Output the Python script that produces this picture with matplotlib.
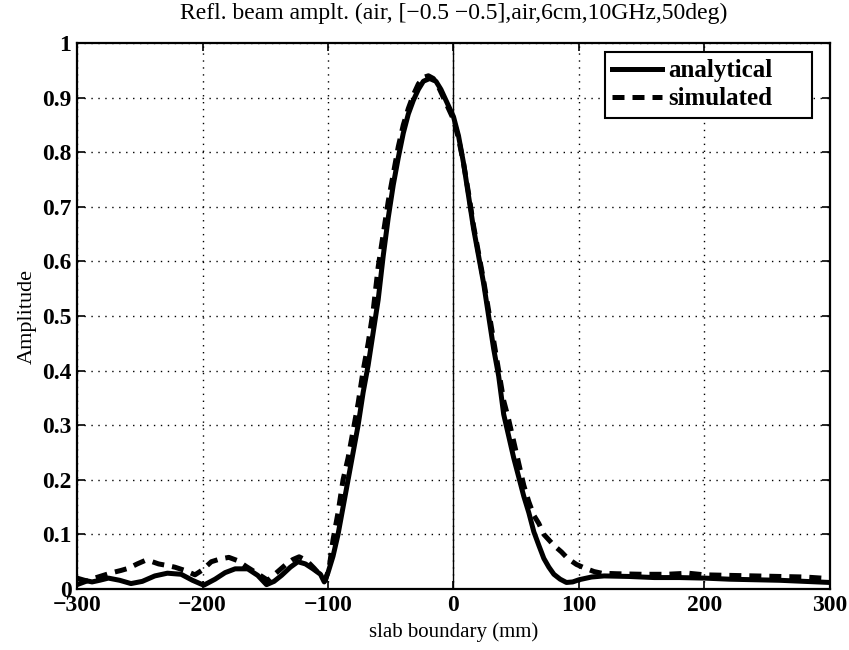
import matplotlib
matplotlib.use("Agg")
import matplotlib.pyplot as plt

# analytical curve (solid)
x_analytical = [-300, -294, -288, -282, -275, -266, -257, -248, -238, -228,
                -217, -208, -199, -190, -182, -174, -164, -156, -149, -143,
                -137, -130, -124, -118, -112, -106, -103, -100, -96, -92,
                -88, -84, -80, -76, -72, -68, -64, -60, -56, -52,
                -48, -44, -40, -36, -32, -28, -24, -19, -14, -10,
                -6, -2, 0, 4, 8, 12, 16, 20, 24, 28,
                32, 36, 40, 44, 48, 52, 56, 60, 64, 68,
                72, 76, 80, 85, 90, 95, 100, 110, 120, 140,
                160, 180, 200, 220, 240, 260, 280, 300]
y_analytical = [0.020, 0.016, 0.013, 0.016, 0.020, 0.016, 0.010, 0.014, 0.024, 0.029,
                0.027, 0.016, 0.007, 0.018, 0.030, 0.037, 0.037, 0.025, 0.008, 0.014,
                0.025, 0.040, 0.050, 0.046, 0.037, 0.027, 0.013, 0.030, 0.060, 0.100,
                0.150, 0.200, 0.250, 0.300, 0.360, 0.410, 0.470, 0.530, 0.610, 0.680,
                0.740, 0.790, 0.835, 0.870, 0.895, 0.915, 0.930, 0.935, 0.930, 0.915,
                0.895, 0.875, 0.865, 0.830, 0.780, 0.720, 0.660, 0.610, 0.560, 0.500,
                0.440, 0.390, 0.320, 0.280, 0.240, 0.205, 0.170, 0.140, 0.105, 0.080,
                0.056, 0.040, 0.027, 0.018, 0.012, 0.013, 0.017, 0.022, 0.024, 0.023,
                0.021, 0.021, 0.020, 0.018, 0.017, 0.016, 0.014, 0.012]

# simulated curve (dashed)
x_simulated = [-300, -293, -286, -279, -272, -265, -259, -252, -246, -240,
               -235, -228, -222, -214, -206, -200, -193, -186, -179, -172,
               -165, -156, -148, -141, -134, -128, -123, -117, -111, -106,
               -102, -99, -96, -92, -88, -84, -80, -76, -72, -68,
               -64, -60, -56, -52, -48, -44, -40, -36, -32, -28,
               -24, -20, -16, -12, -8, -4, 0, 4, 8, 12,
               16, 20, 24, 28, 32, 36, 40, 44, 48, 52,
               56, 60, 64, 68, 72, 76, 80, 86, 91, 98,
               105, 112, 118, 130, 150, 170, 187, 200, 220, 240,
               260, 280, 300]
y_simulated = [0.008, 0.014, 0.020, 0.025, 0.030, 0.034, 0.038, 0.046, 0.052, 0.050,
               0.046, 0.043, 0.040, 0.034, 0.026, 0.035, 0.050, 0.055, 0.058, 0.052,
               0.041, 0.028, 0.016, 0.030, 0.044, 0.054, 0.059, 0.052, 0.038, 0.025,
               0.016, 0.040, 0.090, 0.140, 0.200, 0.240, 0.290, 0.340, 0.400, 0.450,
               0.510, 0.590, 0.650, 0.710, 0.760, 0.810, 0.850, 0.880, 0.905, 0.925,
               0.937, 0.940, 0.935, 0.920, 0.900, 0.880, 0.860, 0.825, 0.780, 0.725,
               0.665, 0.615, 0.565, 0.510, 0.455, 0.400, 0.345, 0.310, 0.270, 0.230,
               0.190, 0.160, 0.135, 0.120, 0.100, 0.090, 0.080, 0.068, 0.056, 0.045,
               0.038, 0.032, 0.029, 0.028, 0.027, 0.027, 0.029, 0.026, 0.025, 0.024,
               0.023, 0.022, 0.019]

x_ticks = [-300, -200, -100, 0, 100, 200, 300]
y_ticks = [0, 0.1, 0.2, 0.3, 0.4, 0.5, 0.6, 0.7, 0.8, 0.9, 1]
y_tick_labels = ["0", "0.1", "0.2", "0.3", "0.4", "0.5", "0.6", "0.7", "0.8", "0.9", "1"]

plt.rcParams['font.family'] = ['Liberation Serif', 'DejaVu Serif']
plt.rcParams['axes.unicode_minus'] = True

fig = plt.figure(figsize=(8.49, 6.5), dpi=100)
ax = fig.add_axes([0.0907, 0.0938, 0.8869, 0.84])

ax.plot(x_analytical, y_analytical, color='black', lw=3.6, label='analytical',
        solid_joinstyle='round')
ax.plot(x_simulated, y_simulated, color='black', lw=3.6, linestyle=(0, (2.4, 1.6)),
        label='simulated')
ax.axvline(0, color='black', lw=1.0)

ax.set_xlim(-300, 300)
ax.set_ylim(0, 1)
ax.set_xticks(x_ticks)
ax.set_xticklabels([str(t).replace('-', '\u2212') for t in x_ticks])
ax.set_yticks(y_ticks)
ax.set_yticklabels(y_tick_labels)
for lab in ax.get_xticklabels() + ax.get_yticklabels():
    lab.set_fontweight('bold')
    lab.set_fontsize(17)

ax.grid(True, linestyle=(0, (1, 4)), color='black', lw=1.0)
ax.tick_params(direction='in', length=6, width=1.2, top=True, right=True, pad=4)
for sp in ax.spines.values():
    sp.set_linewidth(1.6)

ax.set_title('Refl. beam amplt. (air, [\u22120.5 \u22120.5],air,6cm,10GHz,50deg)',
             fontsize=17, pad=17)
ax.set_xlabel('slab boundary (mm)', fontsize=15, labelpad=5)
ax.set_ylabel('Amplitude', fontsize=16, labelpad=4)

# legend box spans a fixed width, entries left-aligned (MATLAB look)
leg = ax.legend(loc='upper left', bbox_to_anchor=(0.701, 0.5, 0.275, 0.484),
                mode='expand', borderaxespad=0,
                fancybox=False, framealpha=1, edgecolor='black',
                prop={'weight': 'bold', 'size': 18}, handlelength=2.0,
                handletextpad=0.25, borderpad=0.3, labelspacing=0.2)
leg.get_frame().set_linewidth(1.5)

fig.savefig('out.png', dpi=100)
